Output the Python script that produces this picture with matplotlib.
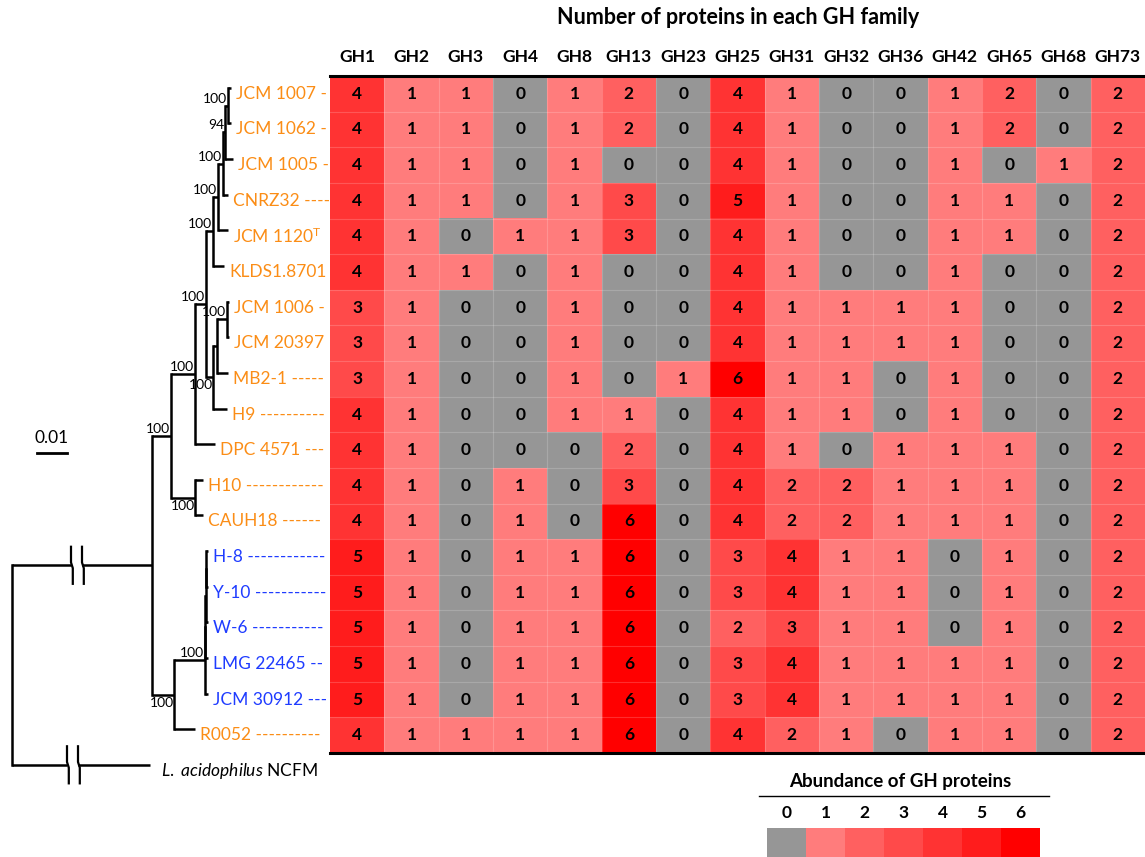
import numpy as np
import matplotlib.pyplot as plt
from matplotlib.colors import ListedColormap
from matplotlib.lines import Line2D

plt.rcParams['font.family'] = ['Lato', 'DejaVu Sans']
plt.rcParams['mathtext.fontset'] = 'custom'
plt.rcParams['mathtext.rm'] = 'Lato'
plt.rcParams['mathtext.it'] = 'Lato:italic'

# ---------------- data ----------------
families = ['GH1', 'GH2', 'GH3', 'GH4', 'GH8', 'GH13', 'GH23', 'GH25',
            'GH31', 'GH32', 'GH36', 'GH42', 'GH65', 'GH68', 'GH73']

strain_labels = [
    'JCM 1007 -', 'JCM 1062 -', 'JCM 1005 -', 'CNRZ32 ----',
    'JCM 1120$^{\\mathrm{T}}$', 'KLDS1.8701', 'JCM 1006 -', 'JCM 20397',
    'MB2-1 -----', 'H9 ----------', 'DPC 4571 ---', 'H10 ------------',
    'CAUH18 ------', 'H-8 ------------', 'Y-10 -----------',
    'W-6 -----------', 'LMG 22465 --', 'JCM 30912 ---', 'R0052 ----------',
]
strain_group = ['orange'] * 13 + ['blue'] * 5 + ['orange']
outgroup_label = '$\\it{L.\\ acidophilus}$ NCFM'

counts = [
    [4, 1, 1, 0, 1, 2, 0, 4, 1, 0, 0, 1, 2, 0, 2],
    [4, 1, 1, 0, 1, 2, 0, 4, 1, 0, 0, 1, 2, 0, 2],
    [4, 1, 1, 0, 1, 0, 0, 4, 1, 0, 0, 1, 0, 1, 2],
    [4, 1, 1, 0, 1, 3, 0, 5, 1, 0, 0, 1, 1, 0, 2],
    [4, 1, 0, 1, 1, 3, 0, 4, 1, 0, 0, 1, 1, 0, 2],
    [4, 1, 1, 0, 1, 0, 0, 4, 1, 0, 0, 1, 0, 0, 2],
    [3, 1, 0, 0, 1, 0, 0, 4, 1, 1, 1, 1, 0, 0, 2],
    [3, 1, 0, 0, 1, 0, 0, 4, 1, 1, 1, 1, 0, 0, 2],
    [3, 1, 0, 0, 1, 0, 1, 6, 1, 1, 0, 1, 0, 0, 2],
    [4, 1, 0, 0, 1, 1, 0, 4, 1, 1, 0, 1, 0, 0, 2],
    [4, 1, 0, 0, 0, 2, 0, 4, 1, 0, 1, 1, 1, 0, 2],
    [4, 1, 0, 1, 0, 3, 0, 4, 2, 2, 1, 1, 1, 0, 2],
    [4, 1, 0, 1, 0, 6, 0, 4, 2, 2, 1, 1, 1, 0, 2],
    [5, 1, 0, 1, 1, 6, 0, 3, 4, 1, 1, 0, 1, 0, 2],
    [5, 1, 0, 1, 1, 6, 0, 3, 4, 1, 1, 0, 1, 0, 2],
    [5, 1, 0, 1, 1, 6, 0, 2, 3, 1, 1, 0, 1, 0, 2],
    [5, 1, 0, 1, 1, 6, 0, 3, 4, 1, 1, 1, 1, 0, 2],
    [5, 1, 0, 1, 1, 6, 0, 3, 4, 1, 1, 1, 1, 0, 2],
    [4, 1, 1, 1, 1, 6, 0, 4, 2, 1, 0, 1, 1, 0, 2],
]

abundance_levels = [0, 1, 2, 3, 4, 5, 6]
level_colors = ['#969696', '#ff7c7c', '#ff6060', '#ff4a4a',
                '#ff3333', '#ff1c1c', '#ff0000']
group_colors = {'orange': '#fb8d16', 'blue': '#1f3cff'}


def leaf(x, row):
    return {'x': x, 'row': row}


def node(x, kids, bs=None, below=False):
    return {'x': x, 'kids': kids, 'bs': bs, 'below': below}


# tree depths (scale: 30 units = 0.01)
tree = node(12, [
    node(152, [
        node(171, [
            node(195, [
                node(206, [
                    node(213, [
                        node(218, [
                            node(223, [
                                node(225, [
                                    node(228, [leaf(231, 0), leaf(231, 1)], '100'),
                                    leaf(233, 2)], '94'),
                                leaf(228, 3)], '100'),
                            leaf(228, 4)], '100'),
                        leaf(224, 5)], '100'),
                    node(213, [
                        node(217, [
                            node(227, [leaf(229, 6), leaf(229, 7)], '100'),
                            leaf(228, 8)]),
                        leaf(227, 9)], '100', below=True)], '100'),
                leaf(215, 10)], '100'),
            node(195, [leaf(203, 11), leaf(203, 12)], '100', below=True)], '100'),
        node(174, [
            node(204.5, [
                node(205, [
                    node(205.5, [
                        node(206, [leaf(208, 13), leaf(208, 14)]),
                        leaf(208, 15)]),
                    leaf(208, 16)]),
                leaf(208, 17)], '100'),
            leaf(195, 18)], '100', below=True)]),
    leaf(150, 19)])
root_breaks = [(71, 82), (67, 78)]
scale_len = 30

# ---------------- layout ----------------
W, H = 1145, 857
hm_left, hm_top, hm_bottom = 330, 76, 753
n_rows = len(strain_labels)
row_h = (hm_bottom - hm_top) / n_rows
tree_dy = -6 / row_h

fig = plt.figure(figsize=(W / 100, H / 100), dpi=100)

# heatmap
ax = fig.add_axes([hm_left / W, 1 - hm_bottom / H, (W - hm_left) / W,
                   (hm_bottom - hm_top) / H])
cmap = ListedColormap(level_colors)
data = np.array(counts)
ax.imshow(data, cmap=cmap, vmin=-0.5, vmax=6.5, aspect='auto',
          interpolation='nearest')
for i in range(1, data.shape[0]):
    ax.axhline(i - 0.5, color='white', lw=0.8, alpha=0.18)
for j in range(1, data.shape[1]):
    ax.axvline(j - 0.5, color='white', lw=0.8, alpha=0.18)
for i in range(data.shape[0]):
    for j in range(data.shape[1]):
        ax.text(j, i, str(data[i, j]), ha='center', va='center',
                fontsize=12.5, fontweight='bold', color='black')
ax.xaxis.tick_top()
ax.set_xticks(range(len(families)))
ax.set_xticklabels(families, fontsize=12.5, fontweight='bold')
ax.tick_params(axis='x', length=0, pad=8)
ax.set_yticks([])
for s in ['left', 'right']:
    ax.spines[s].set_visible(False)
for s in ['top', 'bottom']:
    ax.spines[s].set_linewidth(2.2)
fig.text(738 / W, 1 - 18 / H, 'Number of proteins in each GH family',
         ha='center', va='center', fontsize=15.5, fontweight='bold')

# tree
tx = fig.add_axes([0, 0, hm_left / W, 1])
tx.set_xlim(0, hm_left)
r_top = -hm_top / row_h - 0.5
r_bot = (H - hm_top) / row_h - 0.5
tx.set_ylim(r_bot, r_top)
tx.axis('off')
lw = 1.8


def draw(nd, is_root=False):
    if 'row' in nd:
        return nd['x'], nd['row'] + tree_dy
    ys = []
    for k, kid in enumerate(nd['kids']):
        cx, cy = draw(kid)
        if is_root:
            b0, b1 = root_breaks[k]
            tx.plot([nd['x'], b0], [cy, cy], color='black', lw=lw,
                    solid_capstyle='butt')
            tx.plot([b1, cx], [cy, cy], color='black', lw=lw,
                    solid_capstyle='butt')
            for b in (b0, b1):
                tx.plot([b, b, b + 1.8, b + 1.8],
                        [cy - 0.52, cy - 0.08, cy + 0.08, cy + 0.52],
                        color='black', lw=1.6)
        else:
            tx.plot([nd['x'], cx], [cy, cy], color='black', lw=lw,
                    solid_capstyle='butt')
        ys.append(cy)
    tx.plot([nd['x'], nd['x']], [min(ys), max(ys)], color='black', lw=lw,
            solid_capstyle='projecting')
    y = (ys[0] + ys[-1]) / 2
    if nd['bs']:
        if nd['below']:
            tx.annotate(nd['bs'], (nd['x'], y), xytext=(0, -2),
                        textcoords='offset pixels', ha='right', va='top',
                        fontsize=10)
        else:
            tx.annotate(nd['bs'], (nd['x'], y), xytext=(-1, 1),
                        textcoords='offset pixels', ha='right', va='bottom',
                        fontsize=10)
    return nd['x'], y


draw(tree, is_root=True)


def leaf_tips(nd, out):
    if 'row' in nd:
        out[nd['row']] = nd['x']
    else:
        for kid in nd['kids']:
            leaf_tips(kid, out)
    return out


tips = leaf_tips(tree, {})
for r, lab in enumerate(strain_labels):
    tx.text(tips[r] + 5, r, lab, ha='left', va='center', fontsize=12.5,
            color=group_colors[strain_group[r]])
tx.text(tips[n_rows] + 11, n_rows, outgroup_label, ha='left', va='center',
        fontsize=12.5, color='black')

# scale bar
sb_row = (453 - hm_top) / row_h - 0.5
tx.plot([37, 37 + scale_len], [sb_row, sb_row], color='black', lw=2)
tx.text(37 + scale_len / 2, sb_row - 0.2, '0.01', ha='center', va='bottom',
        fontsize=12.5)

# legend
fig.text(900 / W, 1 - 782 / H, 'Abundance of GH proteins', ha='center',
         va='center', fontsize=13.5, fontweight='bold')
fig.add_artist(Line2D([759 / W, 1049 / W], [1 - 796 / H] * 2,
                      color='black', lw=1))
lx = fig.add_axes([767 / W, 0, 273 / W, 29 / H])
lx.imshow([abundance_levels], cmap=cmap, vmin=-0.5, vmax=6.5, aspect='auto')
lx.xaxis.tick_top()
lx.set_xticks(range(len(abundance_levels)))
lx.set_xticklabels([str(v) for v in abundance_levels], fontsize=12.5,
                   fontweight='bold')
lx.tick_params(axis='x', length=0, pad=5)
lx.set_yticks([])
for s in lx.spines.values():
    s.set_visible(False)

fig.savefig('out.png', dpi=100)
